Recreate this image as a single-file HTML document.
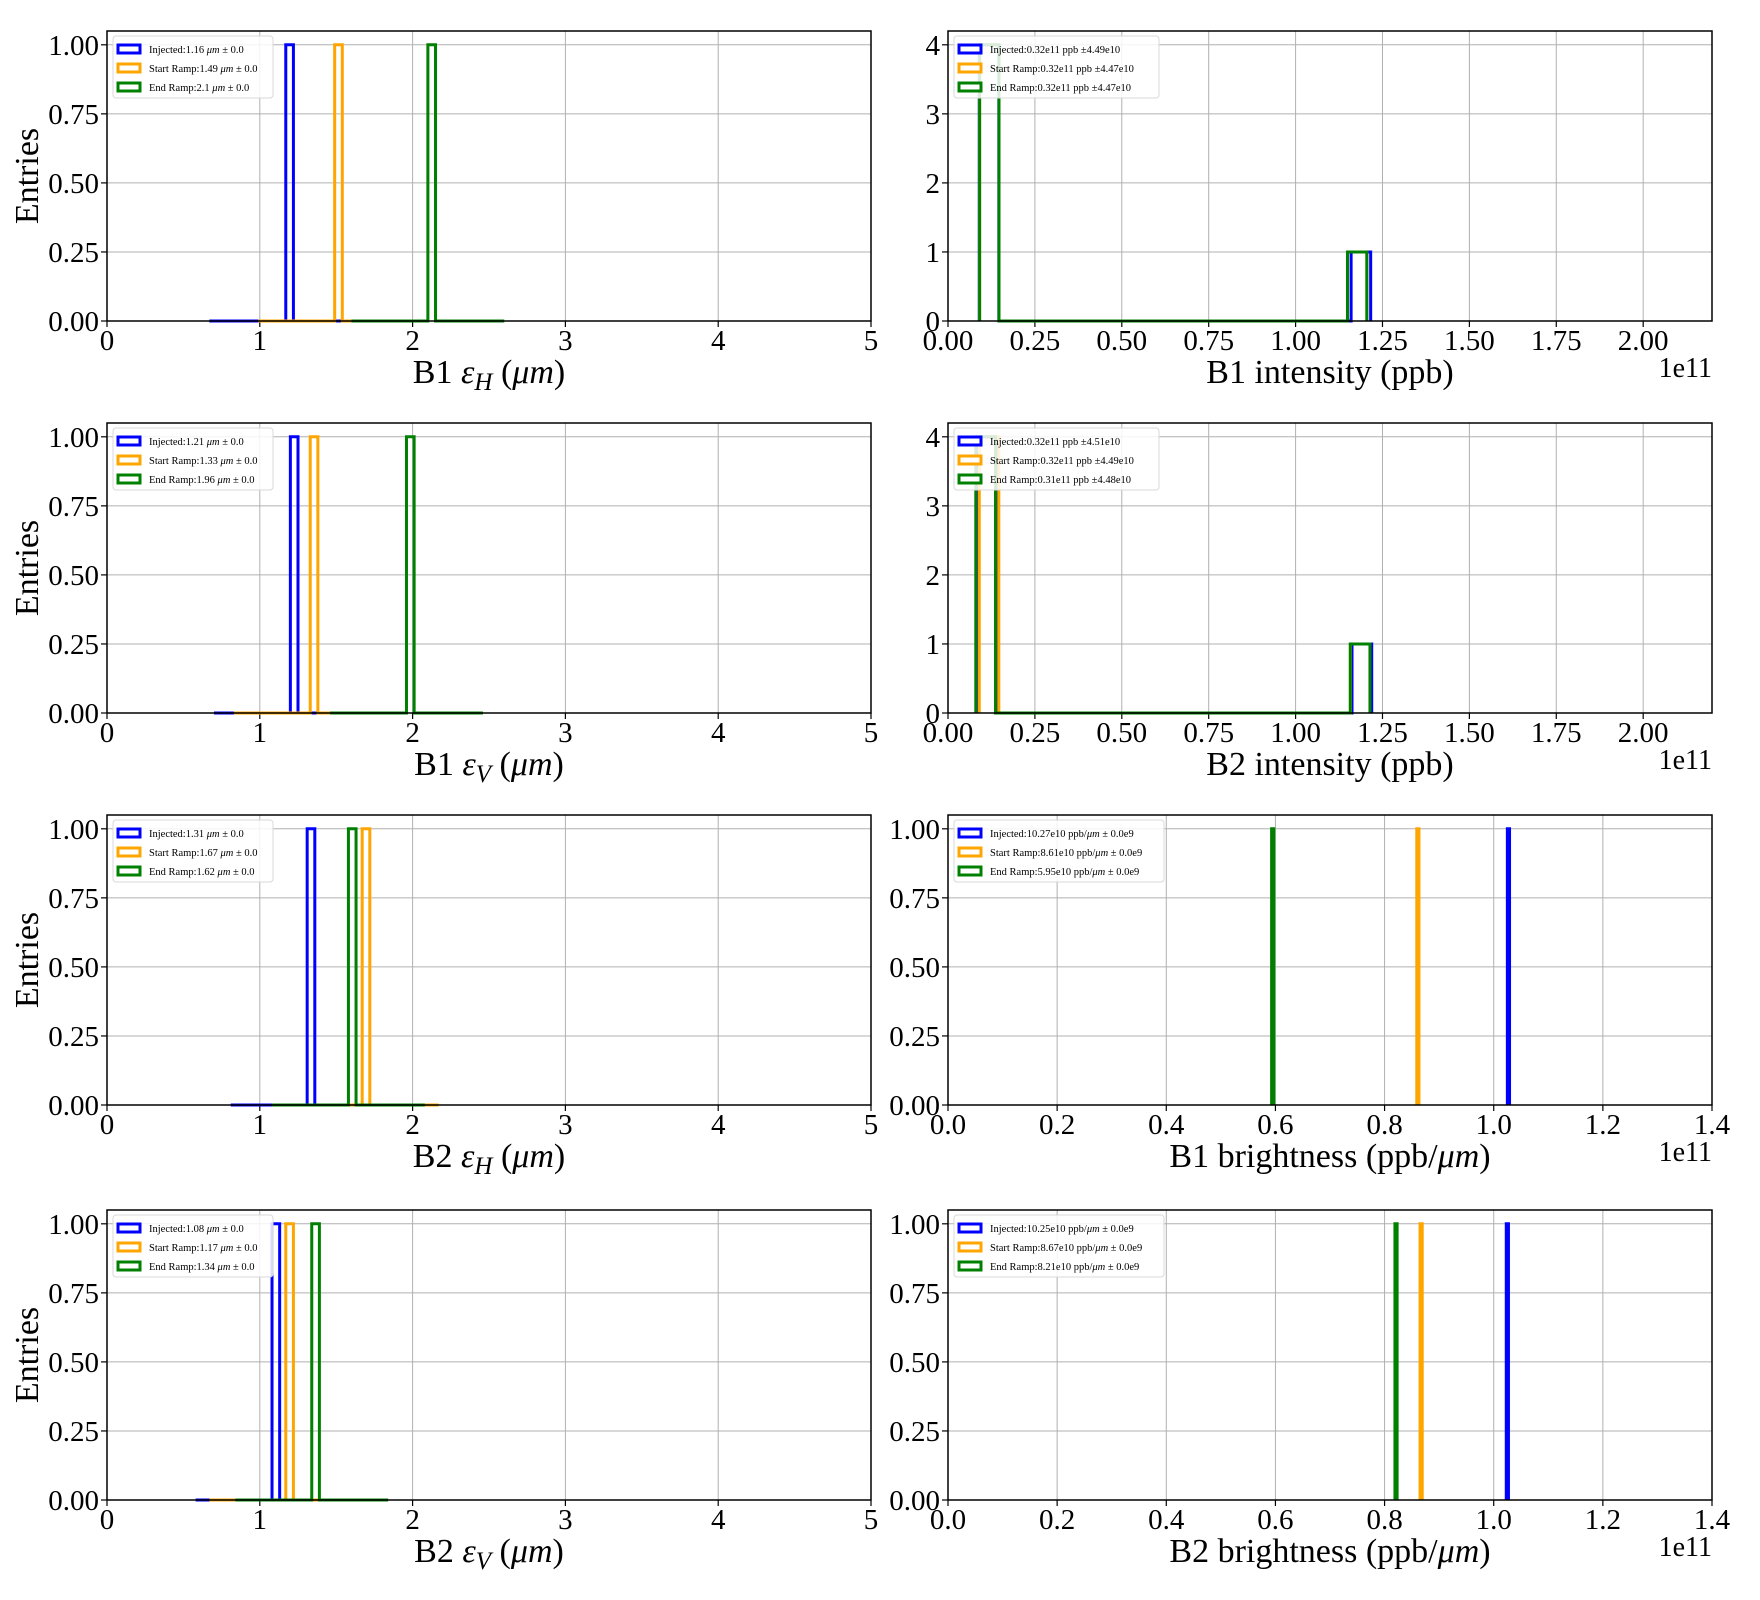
<!DOCTYPE html>
<html><head><meta charset="utf-8"><style>
html,body{margin:0;padding:0;background:#fff;}
svg{display:block;font-family:"Liberation Serif",serif;}
</style></head><body>
<svg id="fig" width="1760" height="1600" viewBox="0 0 1760 1600" xmlns="http://www.w3.org/2000/svg"></svg>
<script>
// ---- data ----
const seriesNames = ["Injected","Start Ramp","End Ramp"];
const seriesColors = ["#0000ff","#ffa500","#008000"];
const oneBin = [0,0,0,0,0,0,0,0,0,0,1,0,0,0,0,0,0,0,0,0];
const spikeBin = [1];
const intBins = [4,0,0,0,0,0,0,0,0,0,0,0,0,0,0,0,0,0,0,1];
const b1hStarts = [0.67, 0.99, 1.60];
const b1vStarts = [0.70, 0.83, 1.46];
const b2hStarts = [0.81, 1.17, 1.08];
const b2vStarts = [0.58, 0.67, 0.84];
const emitWidth = 0.05;
const b1iStarts = [0.09, 0.091, 0.091];
const b1iWidths = [0.0563, 0.0557, 0.0557];
const b2iStarts = [0.085, 0.09, 0.08];
const b2iWidths = [0.0567, 0.0562, 0.0567];
const b1bValues = [1.027, 0.861, 0.595];
const b2bValues = [1.025, 0.867, 0.821];
const brightWidth = 0.004;
const emitTicks = [0,1,2,3,4,5];
const intTicks = ["0.00","0.25","0.50","0.75","1.00","1.25","1.50","1.75","2.00"];
const brightTicks = ["0.0","0.2","0.4","0.6","0.8","1.0","1.2","1.4"];
const unitYTicks = ["0.00","0.25","0.50","0.75","1.00"];
const countYTicks = [0,1,2,3,4];
const leg = {
 b1h:["1.16","1.49","2.1"], b1v:["1.21","1.33","1.96"], b2h:["1.31","1.67","1.62"], b2v:["1.08","1.17","1.34"],
 b1i:[["0.32e11","4.49e10"],["0.32e11","4.47e10"],["0.32e11","4.47e10"]],
 b2i:[["0.32e11","4.51e10"],["0.32e11","4.49e10"],["0.31e11","4.48e10"]],
 b1b:["10.27e10","8.61e10","5.95e10"], b2b:["10.25e10","8.67e10","8.21e10"]
};

const NS="http://www.w3.org/2000/svg";
const svg=document.getElementById('fig');
function mk(tag,attrs,parent){const e=document.createElementNS(NS,tag);for(const k in attrs)e.setAttribute(k,attrs[k]);(parent||svg).appendChild(e);return e;}

const tops=[31,423,815,1210], H=290;
const L={x0:107,x1:871}, R={x0:948,x1:1712};

function panel(name,col,row,xmin,xmax,ymax,xt,yt,xlabel,ylabelOn,sci,hists,legendKind,legendVals,legW){
  const P=col?R:L, top=tops[row], bot=top+H;
  const g=mk('g',{});
  
  
  const sx=v=>P.x0+(v-xmin)/(xmax-xmin)*(P.x1-P.x0);
  const sy=v=>bot-v/ymax*H;
  xt.forEach(t=>{const v=parseFloat(t);const x=sx(v);
    const l=mk('line',{x1:x,x2:x,y1:top,y2:bot,stroke:'#b0b0b0','stroke-width':1},g);
    
    mk('line',{x1:x,x2:x,y1:bot,y2:bot+6,stroke:'#000','stroke-width':1.2},g);
    const tx=mk('text',{x:x,y:bot+29,'font-size':29,'text-anchor':'middle'},g);tx.textContent=t;
    
  });
  yt.forEach(t=>{const v=parseFloat(t);const y=sy(v);
    const l=mk('line',{x1:P.x0,x2:P.x1,y1:y,y2:y,stroke:'#b0b0b0','stroke-width':1},g);
    
    mk('line',{x1:P.x0-6,x2:P.x0,y1:y,y2:y,stroke:'#000','stroke-width':1.2},g);
    const tx=mk('text',{x:P.x0-8,y:y+10,'font-size':29,'text-anchor':'end'},g);tx.textContent=t;
    
  });
  hists.forEach((h,i)=>{
    let d='M'+sx(h.start)+','+sy(0);
    h.counts.forEach((c,k)=>{const a=h.start+k*h.w,b=a+h.w;d+=' L'+sx(a)+','+sy(c)+' L'+sx(b)+','+sy(c);});
    d+=' L'+sx(h.start+h.counts.length*h.w)+','+sy(0);
    const p=mk('path',{d:d,fill:'none',stroke:seriesColors[i],'stroke-width':3,'stroke-linejoin':'miter'},g);
    
    
  });
  const sp=mk('rect',{x:P.x0,y:top,width:P.x1-P.x0,height:H,fill:'none',stroke:'#000','stroke-width':1.5},g);
  
  const xl=mk('text',{x:(P.x0+P.x1)/2,y:bot+62,'font-size':34,'text-anchor':'middle'},g);
  xl.innerHTML=xlabel;
  
  if(sci){const s=mk('text',{x:P.x1,y:bot+56,'font-size':28,'text-anchor':'end'},g);s.textContent='1e11';
    }
  if(ylabelOn){const yl=mk('text',{x:0,y:0,'font-size':34,'text-anchor':'middle',transform:'translate(38,'+(top+H/2)+') rotate(-90)'},g);
    yl.textContent='Entries';}
  const lx=P.x0+6, ly=top+5;
  const lg=mk('g',{},g);
  
  mk('rect',{x:lx,y:ly,width:legW,height:62,rx:3,fill:'#fff','fill-opacity':0.85,stroke:'#d8d8d8','stroke-width':1},lg);
  seriesNames.forEach((n,i)=>{const cy=ly+13+i*19;
    const e=mk('g',{},lg);
    
    mk('rect',{x:lx+5,y:cy-4,width:22,height:8,fill:'#fff',stroke:seriesColors[i],'stroke-width':3},e);
    const t=mk('text',{x:lx+36,y:cy+4,'font-size':10.5},e);
    let s;
    if(legendKind==='emit') s=n+':'+legendVals[i]+' <tspan font-style="italic">μm</tspan> ± 0.0';
    else if(legendKind==='int') s=n+':'+legendVals[i][0]+' ppb ±'+legendVals[i][1];
    else s=n+':'+legendVals[i]+' ppb/<tspan font-style="italic">μm</tspan> ± 0.0e9';
    t.innerHTML=s;
  });
}
const lab=(b,sub)=>b+' <tspan font-style="italic">ε</tspan><tspan font-style="italic" font-size="25" dy="7">'+sub+'</tspan><tspan dy="-7"> (</tspan><tspan font-style="italic">μm</tspan>)';
const emitH=(starts)=>starts.map(s=>({start:s,w:emitWidth,counts:oneBin}));
panel('b1-eh',0,0,0,5,1.05,emitTicks.map(String),unitYTicks,lab('B1','H'),true,false,emitH(b1hStarts),'emit',leg.b1h,160);
panel('b1-ev',0,1,0,5,1.05,emitTicks.map(String),unitYTicks,lab('B1','V'),true,false,emitH(b1vStarts),'emit',leg.b1v,160);
panel('b2-eh',0,2,0,5,1.05,emitTicks.map(String),unitYTicks,lab('B2','H'),true,false,emitH(b2hStarts),'emit',leg.b2h,160);
panel('b2-ev',0,3,0,5,1.05,emitTicks.map(String),unitYTicks,lab('B2','V'),true,false,emitH(b2vStarts),'emit',leg.b2v,160);
panel('b1-int',1,0,0,2.198,4.2,intTicks,countYTicks.map(String),'B1 intensity (ppb)',false,true,
  b1iStarts.map((s,i)=>({start:s,w:b1iWidths[i],counts:intBins})),'int',leg.b1i,205);
panel('b2-int',1,1,0,2.198,4.2,intTicks,countYTicks.map(String),'B2 intensity (ppb)',false,true,
  b2iStarts.map((s,i)=>({start:s,w:b2iWidths[i],counts:intBins})),'int',leg.b2i,205);
panel('b1-bright',1,2,0,1.4,1.05,brightTicks,unitYTicks,'B1 brightness (ppb/<tspan font-style="italic">μm</tspan>)',false,true,
  b1bValues.map(v=>({start:v-brightWidth/2,w:brightWidth,counts:spikeBin})),'bright',leg.b1b,210);
panel('b2-bright',1,3,0,1.4,1.05,brightTicks,unitYTicks,'B2 brightness (ppb/<tspan font-style="italic">μm</tspan>)',false,true,
  b2bValues.map(v=>({start:v-brightWidth/2,w:brightWidth,counts:spikeBin})),'bright',leg.b2b,210);
</script>
</body></html>
